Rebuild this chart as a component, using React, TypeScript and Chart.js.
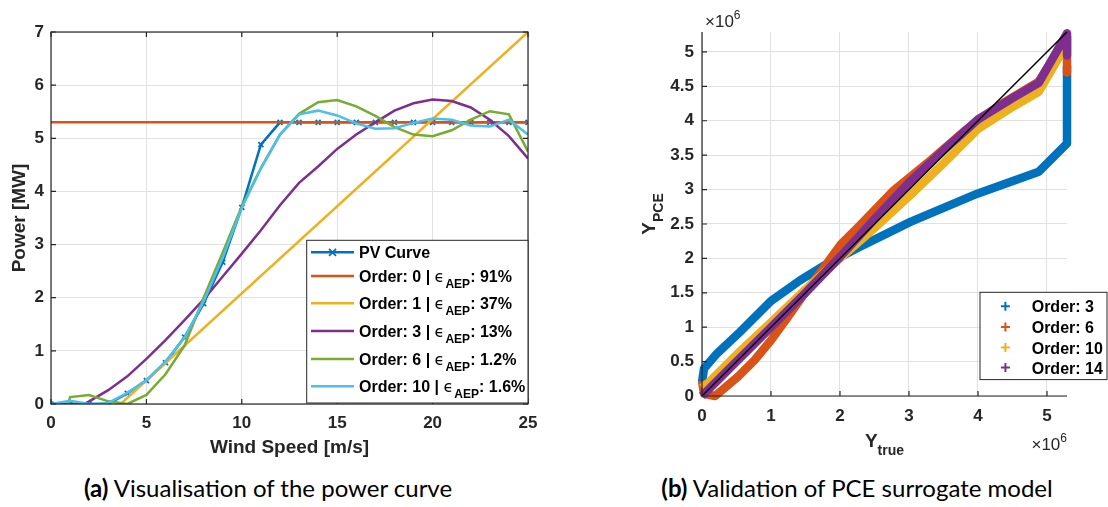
import React, { useEffect, useRef } from "react";
import { Chart, registerables } from "chart.js";
Chart.register(...registerables);

// ---------- (a) Power curve ----------
const windSpeed = [0, 1, 2, 3, 4, 5, 6, 7, 8, 9, 10, 11, 12, 13, 14, 15, 16, 17, 18, 19, 20, 21, 22, 23, 24, 25];
const pvCurve = [0, 0, 0, 0, 0.2, 0.44, 0.78, 1.26, 1.89, 2.67, 3.7, 4.88, 5.3, 5.3, 5.3, 5.3, 5.3, 5.3, 5.3, 5.3, 5.3, 5.3, 5.3, 5.3, 5.3, 5.3];
const order0Power = [5.3, 5.3, 5.3, 5.3, 5.3, 5.3, 5.3, 5.3, 5.3, 5.3, 5.3, 5.3, 5.3, 5.3, 5.3, 5.3, 5.3, 5.3, 5.3, 5.3, 5.3, 5.3, 5.3, 5.3, 5.3, 5.3];
const order1Wind = [3.65, 25];
const order1Power = [0, 7];
const order3Wind = [1.75, 2, 3, 4, 5, 6, 7, 8, 9, 10, 11, 12, 13, 14, 15, 16, 17, 18, 19, 20, 21, 22, 23, 24, 25];
const order3Power = [0, 0.05, 0.26, 0.52, 0.85, 1.2, 1.58, 1.97, 2.4, 2.83, 3.27, 3.74, 4.16, 4.47, 4.8, 5.07, 5.3, 5.52, 5.66, 5.73, 5.7, 5.58, 5.35, 5.04, 4.62];
const order6Wind = [0.9, 1, 2, 3, 4, 5, 6, 7, 8, 9, 10, 11, 12, 13, 14, 15, 16, 17, 18, 19, 20, 21, 22, 23, 24, 25];
const order6Power = [0, 0.13, 0.17, 0.05, 0, 0.17, 0.56, 1.1, 2.0, 2.85, 3.72, 4.44, 5.07, 5.46, 5.68, 5.72, 5.6, 5.42, 5.21, 5.07, 5.04, 5.15, 5.35, 5.51, 5.45, 4.75];
const order10Power = [0, 0.06, 0, 0.02, 0.21, 0.45, 0.8, 1.25, 1.93, 2.75, 3.69, 4.43, 5.07, 5.45, 5.52, 5.43, 5.28, 5.18, 5.19, 5.29, 5.37, 5.35, 5.24, 5.22, 5.35, 5.07];
const legendOrdersA = ["0", "1", "3", "6", "10"];
const legendErrorsA = ["91%", "37%", "13%", "1.2%", "1.6%"];
const powerTicks = [0, 1, 2, 3, 4, 5, 6, 7];
const windTicks = [0, 5, 10, 15, 20, 25];

// ---------- (b) PCE validation (values in units of 1e6) ----------
const order3True = [0, 0.03, 0.22, 0.55, 1.0, 1.42, 1.81, 2.29, 3.02, 3.99, 4.88, 5.29, 5.29];
const order3Pce = [0.2, 0.4, 0.62, 0.93, 1.38, 1.68, 1.92, 2.17, 2.53, 2.94, 3.26, 3.67, 4.8];
const order6True = [0, 0.03, 0.19, 0.52, 0.76, 1.0, 1.24, 1.48, 1.77, 2.01, 2.29, 2.78, 3.26, 3.8, 4.3, 4.88, 5.29, 5.29];
const order6Pce = [0.22, 0.03, 0.0, 0.28, 0.52, 0.81, 1.14, 1.48, 1.87, 2.2, 2.48, 2.99, 3.38, 3.85, 4.22, 4.57, 5.22, 4.7];
const order10True = [0, 0.1, 0.5, 1.0, 1.5, 2.0, 2.5, 3.0, 3.5, 4.0, 4.5, 4.88, 5.29];
const order10Pce = [0.12, 0.2, 0.6, 1.07, 1.55, 2.0, 2.44, 2.9, 3.38, 3.88, 4.2, 4.42, 5.12];
const order14True = [0, 0.5, 1, 1.5, 2, 2.5, 3, 3.5, 4, 4.5, 4.88, 5.29, 5.29];
const order14Pce = [0, 0.5, 1.0, 1.5, 2.02, 2.57, 3.1, 3.57, 4.02, 4.33, 4.55, 5.27, 4.95];
const identityTrue = [0, 5.29];
const identityPce = [0, 5.29];
const legendOrdersB = ["3", "6", "10", "14"];
const axisMaxB = 5.29;
const trueTicks = [0, 1, 2, 3, 4, 5];
const pceTicks = [0, 0.5, 1, 1.5, 2, 2.5, 3, 3.5, 4, 4.5, 5];

const BLUE = "#0072BD";
const ORANGE = "#D95319";
const YELLOW = "#EDB120";
const PURPLE = "#7E2F8E";
const GREEN = "#77AC30";
const CYAN = "#4DBEEE";
const AXIS = "#262626";
const GRID = "#e1e1e1";
const FONT = '"Liberation Sans", Arial, Helvetica, sans-serif';

const zip = (xs: number[], ys: number[]) => xs.map((x, i) => ({ x, y: ys[i] }));
const fmt = (v: any) => String(Number(Number(v).toFixed(2)));

export default function App() {
  const ref1 = useRef<HTMLCanvasElement>(null);
  const ref2 = useRef<HTMLCanvasElement>(null);

  useEffect(() => {
    const lineDs = (label: string, data: any[], color: string, order: number, extra: any = {}) => ({
      label,
      data,
      showLine: true,
      borderColor: color,
      backgroundColor: color,
      borderWidth: 2.5,
      pointRadius: 0,
      tension: 0,
      order,
      ...extra,
    });

    const tickFont = { family: FONT, size: 17, weight: "bold" as const };

    const boxPlugin = {
      id: "boxTicksA",
      afterDatasetsDraw(chart: any) {
        const { ctx, chartArea: a, scales } = chart;
        const x = scales.x, y = scales.y;
        ctx.save();
        ctx.strokeStyle = AXIS;
        ctx.lineWidth = 1.2;
        ctx.strokeRect(a.left, a.top, a.right - a.left, a.bottom - a.top);
        ctx.beginPath();
        windTicks.forEach((v) => {
          const px = x.getPixelForValue(v);
          ctx.moveTo(px, a.bottom); ctx.lineTo(px, a.bottom - 5);
          ctx.moveTo(px, a.top); ctx.lineTo(px, a.top + 5);
        });
        powerTicks.forEach((v) => {
          const py = y.getPixelForValue(v);
          ctx.moveTo(a.left, py); ctx.lineTo(a.left + 5, py);
          ctx.moveTo(a.right, py); ctx.lineTo(a.right - 5, py);
        });
        ctx.stroke();

        // legend
        const bw = 221.3, bh = 162.7;
        const bx = a.right - bw, by = a.bottom - bh - 1;
        ctx.fillStyle = "#fff";
        ctx.fillRect(bx, by, bw, bh);
        ctx.lineWidth = 1;
        ctx.strokeStyle = AXIS;
        ctx.strokeRect(bx, by, bw, bh);
        const rows = [12, 35.7, 63, 90.7, 118.7, 146];
        const colors = [BLUE, ORANGE, YELLOW, PURPLE, GREEN, CYAN];
        const tx = bx + 52.3;
        rows.forEach((r, i) => {
          const cy = by + r;
          ctx.strokeStyle = colors[i];
          ctx.lineWidth = 2.5;
          ctx.beginPath();
          ctx.moveTo(bx + 4.3, cy);
          ctx.lineTo(bx + 47.3, cy);
          ctx.stroke();
          const base = cy + 6;
          ctx.fillStyle = "#000";
          ctx.textBaseline = "alphabetic";
          ctx.textAlign = "left";
          if (i === 0) {
            const mx = bx + 25.8;
            ctx.lineWidth = 1.8;
            ctx.beginPath();
            ctx.moveTo(mx - 3.5, cy - 3.5); ctx.lineTo(mx + 3.5, cy + 3.5);
            ctx.moveTo(mx - 3.5, cy + 3.5); ctx.lineTo(mx + 3.5, cy - 3.5);
            ctx.stroke();
            ctx.font = `bold 16px ${FONT}`;
            ctx.fillText("PV Curve", tx, base);
          } else {
            let cx = tx;
            ctx.font = `bold 16px ${FONT}`;
            const t1 = `Order: ${legendOrdersA[i - 1]} | `;
            ctx.fillText(t1, cx, base);
            cx += ctx.measureText(t1).width;
            ctx.font = `16px "DejaVu Sans"`;
            ctx.fillText("\u03F5", cx, base);
            cx += ctx.measureText("\u03F5").width + 1;
            ctx.font = `bold 12px ${FONT}`;
            ctx.fillText("AEP", cx, base + 6);
            cx += ctx.measureText("AEP").width;
            ctx.font = `bold 16px ${FONT}`;
            ctx.fillText(`: ${legendErrorsA[i - 1]}`, cx, base);
          }
        });
        ctx.restore();
      },
    };

    const c1 = new Chart(ref1.current!, {
      type: "scatter",
      data: {
        datasets: [
          lineDs("PV Curve", zip(windSpeed, pvCurve), BLUE, 6, {
            pointRadius: 3.5,
            pointStyle: "crossRot",
            pointBorderWidth: 1.8,
            pointBorderColor: BLUE,
          }),
          lineDs("Order: 0", zip(windSpeed, order0Power), ORANGE, 5),
          lineDs("Order: 1", zip(order1Wind, order1Power), YELLOW, 4),
          lineDs("Order: 3", zip(order3Wind, order3Power), PURPLE, 3),
          lineDs("Order: 6", zip(order6Wind, order6Power), GREEN, 2),
          lineDs("Order: 10", zip(windSpeed, order10Power), CYAN, 1),
        ],
      },
      options: {
        responsive: false,
        animation: false,
        events: [],
        layout: { padding: { top: 32, right: 32, left: 0, bottom: 0 } },
        plugins: { legend: { display: false }, tooltip: { enabled: false } },
        scales: {
          x: {
            type: "linear",
            min: 0,
            max: 25,
            afterFit: (s: any) => { s.height = 66; },
            ticks: { stepSize: 5, font: tickFont, color: AXIS, padding: 9, autoSkip: false, includeBounds: false, callback: fmt },
            grid: { color: GRID, lineWidth: 1, drawTicks: false },
            border: { display: false },
            title: {
              display: true,
              text: "Wind Speed [m/s]",
              font: { family: FONT, size: 19, weight: "bold" },
              color: AXIS,
              padding: { top: 0, bottom: 11 },
            },
          },
          y: {
            type: "linear",
            min: 0,
            max: 7,
            afterFit: (s: any) => { s.width = 51; },
            ticks: { stepSize: 1, font: tickFont, color: AXIS, padding: 7, autoSkip: false, includeBounds: false, callback: fmt },
            grid: { color: GRID, lineWidth: 1, drawTicks: false },
            border: { display: false },
            title: {
              display: true,
              text: "Power [MW]",
              font: { family: FONT, size: 19, weight: "bold" },
              color: AXIS,
              padding: { top: 8, bottom: 0 },
            },
          },
        },
      },
      plugins: [boxPlugin],
    } as any);

    const bandDs = (label: string, data: any[], color: string, order: number, width = 8.5) => ({
      label,
      data,
      showLine: true,
      borderColor: color,
      backgroundColor: color,
      borderWidth: width,
      borderJoinStyle: "round",
      borderCapStyle: "butt",
      pointRadius: 0,
      tension: 0,
      clip: false,
      order,
    });

    const plugin2 = {
      id: "axesB",
      afterDatasetsDraw(chart: any) {
        const { ctx, chartArea: a, scales } = chart;
        const x = scales.x, y = scales.y;
        ctx.save();
        ctx.strokeStyle = AXIS;
        ctx.lineWidth = 1.2;
        ctx.beginPath();
        ctx.moveTo(a.left, a.top); ctx.lineTo(a.left, a.bottom); ctx.lineTo(a.right, a.bottom);
        trueTicks.forEach((v) => {
          const px = x.getPixelForValue(v);
          ctx.moveTo(px, a.bottom); ctx.lineTo(px, a.bottom - 5);
        });
        pceTicks.forEach((v) => {
          const py = y.getPixelForValue(v);
          ctx.moveTo(a.left, py); ctx.lineTo(a.left + 5, py);
        });
        ctx.stroke();

        // legend
        const bx = a.right - 87, by = a.bottom - 103.7, bw = 127, bh = 87.3;
        ctx.fillStyle = "#fff";
        ctx.fillRect(bx, by, bw, bh);
        ctx.lineWidth = 1;
        ctx.strokeRect(bx, by, bw, bh);
        const rows = [14, 34.7, 55.3, 75.3];
        const colors = [BLUE, ORANGE, YELLOW, PURPLE];
        rows.forEach((r, i) => {
          const cy = by + r;
          const mx = bx + 25.4;
          ctx.strokeStyle = colors[i];
          ctx.lineWidth = 2;
          ctx.beginPath();
          ctx.moveTo(mx - 4.5, cy); ctx.lineTo(mx + 4.5, cy);
          ctx.moveTo(mx, cy - 4.5); ctx.lineTo(mx, cy + 4.5);
          ctx.stroke();
          ctx.fillStyle = "#000";
          ctx.font = `bold 16px ${FONT}`;
          ctx.textAlign = "left";
          ctx.textBaseline = "alphabetic";
          ctx.fillText(`Order: ${legendOrdersB[i]}`, bx + 51.7, cy + 6);
        });

        // axis labels
        ctx.fillStyle = AXIS;
        ctx.textAlign = "left";
        ctx.textBaseline = "alphabetic";
        // Y_true
        ctx.font = `bold 19px ${FONT}`;
        const wY = ctx.measureText("Y").width;
        ctx.font = `bold 14px ${FONT}`;
        const wT = ctx.measureText("true").width;
        const cx = (a.left + a.right) / 2;
        const sx = cx - (wY + wT) / 2;
        ctx.font = `bold 19px ${FONT}`;
        ctx.fillText("Y", sx, 447);
        ctx.font = `bold 14px ${FONT}`;
        ctx.fillText("true", sx + wY, 455);
        // Y_PCE (rotated)
        ctx.font = `bold 14px ${FONT}`;
        const wP = ctx.measureText("PCE").width;
        ctx.save();
        const cyMid = (a.top + a.bottom) / 2;
        ctx.translate(95, cyMid + (wY + wP) / 2);
        ctx.rotate(-Math.PI / 2);
        ctx.font = `bold 19px ${FONT}`;
        ctx.fillText("Y", 0, 0);
        ctx.font = `bold 14px ${FONT}`;
        ctx.fillText("PCE", wY, 8);
        ctx.restore();
        // x10^6 exponents
        const expFont = `17px ${FONT}`;
        const supFont = `12px ${FONT}`;
        const drawExp = (xStart: number, base: number) => {
          ctx.font = expFont;
          ctx.fillText("\u00D710", xStart, base);
          const w = ctx.measureText("\u00D710").width;
          ctx.font = supFont;
          ctx.fillText("6", xStart + w, base - 8);
        };
        ctx.font = expFont;
        const wE = ctx.measureText("\u00D710").width;
        ctx.font = supFont;
        const w6 = ctx.measureText("6").width;
        drawExp(a.left + 3, 27);
        drawExp(a.right - wE - w6, 450);
        ctx.restore();
      },
    };

    const c2 = new Chart(ref2.current!, {
      type: "scatter",
      data: {
        datasets: [
          bandDs("Order: 3", zip(order3True, order3Pce), BLUE, 5),
          bandDs("Order: 6", zip(order6True, order6Pce), ORANGE, 4),
          bandDs("Order: 10", zip(order10True, order10Pce), YELLOW, 3),
          bandDs("Order: 14", zip(order14True, order14Pce), PURPLE, 2),
          bandDs("identity", zip(identityTrue, identityPce), "#000000", 1, 1.5),
        ],
      },
      options: {
        responsive: false,
        animation: false,
        events: [],
        layout: { padding: { top: 32, right: 41, left: 0, bottom: 0 } },
        plugins: { legend: { display: false }, tooltip: { enabled: false } },
        scales: {
          x: {
            type: "linear",
            min: 0,
            max: axisMaxB,
            afterFit: (s: any) => { s.height = 74; },
            ticks: { stepSize: 1, font: tickFont, color: AXIS, padding: 10, autoSkip: false, includeBounds: false, callback: fmt },
            grid: { color: GRID, lineWidth: 1, drawTicks: false },
            border: { display: false },
          },
          y: {
            type: "linear",
            min: 0,
            max: axisMaxB,
            afterFit: (s: any) => { s.width = 142; },
            ticks: { stepSize: 0.5, font: tickFont, color: AXIS, padding: 8, autoSkip: false, includeBounds: false, callback: fmt },
            grid: { color: GRID, lineWidth: 1, drawTicks: false },
            border: { display: false },
          },
        },
      },
      plugins: [plugin2],
    } as any);

    return () => {
      c1.destroy();
      c2.destroy();
    };
  }, []);

  const capStyle: React.CSSProperties = {
    position: "absolute",
    top: 476,
    textAlign: "center",
    fontFamily: "Lato, sans-serif",
    fontSize: 24,
    lineHeight: "24px",
    color: "#000",
    whiteSpace: "nowrap",
  };

  return (
    <div style={{ position: "absolute", left: 0, top: 0, width: 1108, height: 507, background: "#fff", overflow: "hidden" }}>
      <canvas ref={ref1} width={560} height={470} style={{ position: "absolute", left: 0, top: 0 }} />
      <canvas ref={ref2} width={548} height={470} style={{ position: "absolute", left: 560, top: 0 }} />
      <div style={{ ...capStyle, left: 0, width: 536 }}>
        <b>(a)</b> Visualisation of the power curve
      </div>
      <div style={{ ...capStyle, left: 600, width: 514 }}>
        <b>(b)</b> Validation of PCE surrogate model
      </div>
    </div>
  );
}
